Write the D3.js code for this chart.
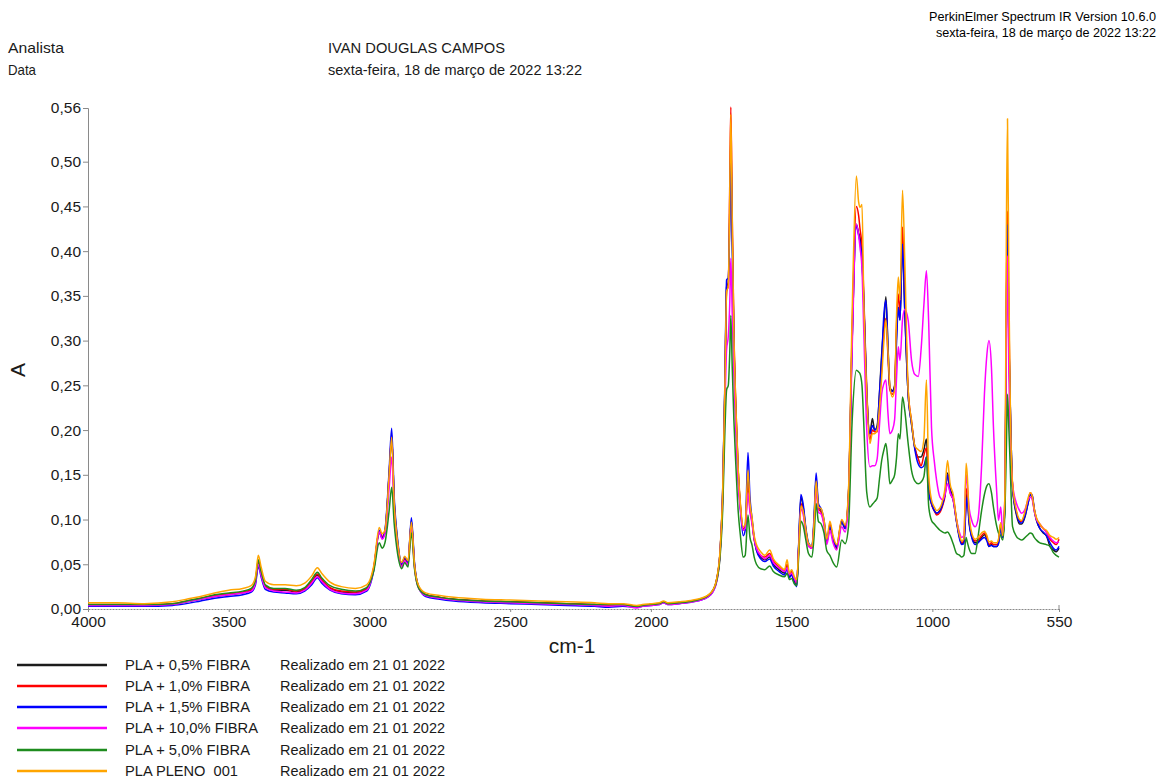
<!DOCTYPE html>
<html>
<head>
<meta charset="utf-8">
<script src="https://cdn.jsdelivr.net/npm/d3@7"></script>
<style>
  html, body { margin: 0; padding: 0; background: #fff; }
  svg { display: block; font-family: "Liberation Sans", Arial, sans-serif; }
</style>
</head>
<body>
<svg id="chart" width="1157" height="778"></svg>
<script>
// Wavenumber grid (cm-1), shared by all spectra
const wavenumbers = [
  4000,3900,3800,3700,3650,3600,3550,3500,3450,3420,
  3405,3395,3385,3370,3340,3300,3260,3230,3205,3185,
  3170,3140,3100,3050,3010,2985,2965,2955,2945,2930,
  2921,2912,2900,2885,2875,2863,2851,2840,2825,2800,
  2750,2700,2600,2500,2400,2300,2200,2150,2100,2050,
  2030,2000,1970,1955,1940,1900,1850,1800,1780,1765,
  1755,1745,1737,1731,1725,1720,1716,1711,1705,1698,
  1690,1682,1672,1665,1655,1648,1641,1633,1625,1610,
  1595,1578,1565,1545,1525,1516,1508,1500,1490,1482,
  1475,1467,1458,1450,1440,1428,1420,1413,1405,1395,
  1385,1375,1364,1353,1340,1322,1310,1298,1285,1270,
  1262,1257,1250,1244,1233,1222,1213,1205,1196,1188,
  1180,1172,1165,1158,1151,1142,1134,1127,1121,1115,
  1106,1098,1086,1074,1062,1050,1040,1030,1021,1013,
  1003,993,985,973,963,955,946,937,926,914,
  903,896,888,880,876,870,860,848,838,825,
  815,806,799,790,783,771,765,757,750,742,
  737,733,728,724,715,701,690,683,670,660,
  652,645,638,630,618,606,595,582,570,560,
  550
];

// Absorbance, PLA + 0,5% FIBRA
const abs05 = [
  .004,.004,.004,.005,.008,.011,.014,.016,.018,.021,
  .030,.052,.040,.025,.021,.021,.019,.022,.030,.038,
  .032,.023,.019,.018,.022,.045,.085,.080,.085,.150,
  .192,.120,.075,.050,.057,.052,.098,.050,.025,.016,
  .013,.011,.009,.008,.007,.006,.005,.004,.005,.003,
  .004,.005,.006,.008,.006,.007,.009,.014,.020,.035,
  .060,.130,.250,.360,.365,.440,.530,.420,.300,.220,
  .155,.115,.088,.090,.145,.115,.100,.078,.066,.058,
  .055,.058,.050,.044,.040,.048,.036,.040,.030,.026,
  .070,.125,.112,.090,.072,.068,.100,.146,.115,.110,
  .098,.075,.090,.078,.068,.097,.090,.128,.300,.430,
  .420,.415,.390,.345,.240,.196,.213,.200,.205,.240,
  .285,.320,.349,.297,.248,.244,.250,.310,.337,.323,
  .408,.334,.240,.207,.180,.170,.170,.178,.190,.135,
  .118,.110,.107,.110,.118,.129,.152,.135,.125,.099,
  .080,.073,.075,.120,.130,.100,.081,.074,.075,.080,
  .083,.078,.070,.072,.070,.070,.074,.092,.080,.120,
  .330,.420,.300,.240,.136,.105,.095,.095,.104,.118,
  .128,.125,.110,.099,.090,.085,.082,.070,.066,.064,
  .068
];

// Absorbance, PLA + 1,0% FIBRA
const abs10 = [
  .005,.005,.005,.006,.009,.012,.015,.017,.019,.022,
  .031,.054,.041,.026,.022,.022,.020,.023,.031,.039,
  .033,.024,.020,.019,.023,.046,.087,.081,.087,.150,
  .195,.118,.072,.049,.056,.051,.097,.048,.024,.016,
  .013,.011,.009,.008,.007,.006,.005,.004,.005,.003,
  .004,.005,.006,.008,.006,.007,.009,.014,.020,.035,
  .060,.128,.245,.355,.362,.470,.561,.440,.310,.225,
  .155,.115,.090,.092,.140,.112,.098,.078,.068,.060,
  .058,.062,.054,.047,.043,.050,.039,.042,.033,.029,
  .068,.118,.108,.088,.072,.068,.098,.140,.112,.108,
  .096,.075,.095,.080,.070,.099,.092,.130,.310,.450,
  .440,.425,.405,.355,.245,.189,.200,.198,.198,.230,
  .270,.310,.325,.285,.245,.240,.248,.320,.352,.330,
  .427,.350,.245,.210,.180,.168,.160,.172,.180,.135,
  .117,.110,.105,.108,.116,.126,.150,.130,.122,.098,
  .080,.074,.076,.130,.135,.102,.082,.076,.077,.082,
  .085,.080,.072,.074,.072,.072,.076,.096,.082,.125,
  .350,.445,.330,.240,.138,.108,.098,.098,.108,.120,
  .130,.126,.112,.101,.094,.090,.086,.078,.074,.072,
  .078
];

// Absorbance, PLA + 1,5% FIBRA
const abs15 = [
  .003,.003,.003,.004,.006,.009,.012,.014,.016,.019,
  .027,.048,.036,.022,.019,.018,.017,.020,.027,.035,
  .029,.021,.017,.016,.020,.043,.088,.079,.088,.155,
  .202,.125,.078,.050,.058,.052,.102,.052,.024,.014,
  .011,.009,.007,.006,.005,.004,.003,.002,.003,.002,
  .003,.004,.005,.007,.005,.006,.008,.013,.019,.034,
  .060,.132,.255,.368,.370,.430,.515,.410,.295,.215,
  .150,.112,.082,.088,.175,.125,.102,.080,.066,.056,
  .053,.056,.048,.042,.038,.046,.035,.038,.029,.025,
  .072,.128,.115,.092,.074,.070,.105,.152,.118,.112,
  .100,.076,.092,.078,.070,.098,.090,.126,.300,.428,
  .418,.410,.390,.350,.240,.196,.205,.200,.203,.240,
  .280,.330,.345,.295,.248,.243,.248,.300,.337,.323,
  .408,.334,.240,.207,.178,.162,.158,.160,.170,.130,
  .118,.110,.107,.110,.118,.128,.150,.132,.122,.097,
  .078,.072,.073,.115,.125,.098,.080,.072,.074,.078,
  .080,.076,.070,.071,.070,.070,.073,.090,.080,.118,
  .320,.430,.300,.240,.136,.107,.097,.096,.105,.118,
  .128,.127,.112,.100,.090,.086,.082,.074,.068,.066,
  .070
];

// Absorbance, PLA + 10,0% FIBRA
const abs100 = [
  .004,.004,.004,.005,.008,.011,.014,.016,.018,.020,
  .029,.050,.038,.024,.020,.019,.018,.021,.029,.036,
  .031,.022,.018,.017,.021,.044,.086,.078,.084,.135,
  .170,.110,.068,.047,.054,.049,.093,.047,.023,.015,
  .012,.010,.008,.007,.006,.005,.004,.003,.004,.001,
  .003,.004,.005,.007,.005,.006,.008,.013,.019,.032,
  .057,.120,.225,.290,.305,.340,.392,.330,.260,.195,
  .140,.110,.088,.090,.130,.108,.096,.078,.068,.060,
  .056,.060,.052,.046,.042,.046,.038,.040,.034,.030,
  .065,.112,.104,.086,.070,.068,.096,.134,.108,.106,
  .094,.072,.088,.074,.066,.092,.086,.120,.290,.430,
  .418,.404,.380,.315,.200,.159,.160,.160,.168,.205,
  .240,.252,.256,.220,.196,.200,.212,.260,.293,.278,
  .323,.335,.323,.278,.262,.260,.290,.340,.378,.320,
  .203,.165,.144,.125,.122,.128,.140,.130,.122,.100,
  .085,.080,.082,.150,.140,.115,.099,.092,.100,.160,
  .240,.285,.300,.270,.204,.129,.099,.114,.085,.130,
  .300,.395,.260,.200,.140,.118,.110,.107,.112,.122,
  .125,.122,.110,.100,.095,.090,.086,.080,.076,.074,
  .075
];

// Absorbance, PLA + 5,0% FIBRA
const abs50 = [
  .005,.005,.005,.006,.009,.012,.016,.018,.020,.023,
  .032,.055,.042,.027,.023,.023,.021,.024,.033,.041,
  .035,.026,.022,.020,.024,.042,.074,.068,.074,.110,
  .136,.095,.062,.045,.052,.047,.085,.045,.023,.016,
  .013,.011,.009,.008,.007,.006,.005,.005,.005,.003,
  .004,.005,.006,.008,.006,.007,.009,.014,.021,.033,
  .055,.110,.200,.245,.250,.285,.328,.270,.210,.160,
  .110,.082,.058,.060,.105,.080,.072,.058,.050,.045,
  .044,.048,.042,.038,.036,.040,.033,.034,.028,.026,
  .058,.098,.092,.078,.062,.058,.082,.118,.098,.095,
  .085,.065,.060,.052,.047,.077,.073,.092,.210,.267,
  .265,.263,.250,.210,.130,.114,.117,.120,.124,.145,
  .166,.178,.185,.166,.140,.144,.150,.170,.196,.190,
  .237,.222,.185,.155,.143,.140,.142,.148,.170,.115,
  .099,.095,.092,.088,.086,.085,.086,.082,.073,.062,
  .060,.058,.060,.080,.075,.068,.062,.062,.080,.110,
  .128,.138,.140,.130,.114,.092,.085,.082,.077,.110,
  .180,.240,.200,.166,.092,.081,.078,.077,.080,.083,
  .085,.084,.080,.077,.074,.073,.072,.070,.063,.060,
  .058
];

// Absorbance, PLA PLENO 001
const absPleno = [
  .007,.007,.006,.008,.011,.014,.018,.021,.023,.026,
  .036,.060,.047,.031,.027,.027,.026,.029,.037,.046,
  .040,.030,.025,.023,.027,.048,.091,.084,.088,.150,
  .192,.118,.075,.052,.059,.054,.097,.050,.026,.018,
  .015,.013,.011,.010,.009,.008,.007,.006,.006,.004,
  .005,.006,.007,.009,.007,.008,.010,.015,.021,.036,
  .062,.132,.250,.355,.360,.460,.553,.435,.305,.225,
  .158,.118,.092,.095,.155,.118,.103,.082,.072,.064,
  .060,.066,.056,.049,.044,.055,.040,.044,.036,.033,
  .066,.115,.108,.090,.073,.070,.098,.143,.114,.112,
  .100,.078,.098,.082,.072,.100,.094,.132,.330,.484,
  .455,.449,.452,.352,.240,.185,.196,.196,.200,.225,
  .259,.300,.323,.290,.250,.237,.245,.330,.371,.345,
  .468,.390,.245,.210,.182,.178,.176,.190,.256,.150,
  .122,.114,.110,.113,.122,.135,.166,.140,.128,.100,
  .082,.076,.078,.163,.150,.110,.085,.078,.080,.085,
  .087,.082,.075,.076,.074,.074,.078,.096,.082,.130,
  .420,.548,.360,.250,.140,.110,.100,.099,.110,.124,
  .130,.126,.112,.102,.095,.090,.088,.082,.080,.078,
  .080
];

const seriesNames = ["PLA + 0,5% FIBRA", "PLA + 1,0% FIBRA", "PLA + 1,5% FIBRA",
                     "PLA + 10,0% FIBRA", "PLA + 5,0% FIBRA", "PLA PLENO  001"];
const seriesValues = [abs05, abs10, abs15, abs100, abs50, absPleno];
const seriesColors = ["#1c1c1c", "#ff0000", "#0000ff", "#ff00ff", "#1e8c1e", "#ffa500"];
const runNote = "Realizado em 21 01 2022";

const xTicks = [4000, 3500, 3000, 2500, 2000, 1500, 1000, 550];
const yTicks = [0, 0.05, 0.10, 0.15, 0.20, 0.25, 0.30, 0.35, 0.40, 0.45, 0.50, 0.56];

const svg = d3.select("#chart");
const plotLeft = 88, plotRight = 1059, plotTop = 108, plotBottom = 609;

const x = d3.scaleLinear().domain([4000, 550]).range([plotLeft, plotRight]);
const y = d3.scaleLinear().domain([0, 0.56]).range([plotBottom, plotTop]);

const textColor = "#1a1a1a";
const axisColor = "#8a8a8a";

// Text helper: fixed-width label squeezed to the given length
function label(g, str, xPos, yPos, len) {
  const t = g.append("text").attr("x", xPos).attr("y", yPos).text(str);
  if (len) t.attr("textLength", len).attr("lengthAdjust", "spacingAndGlyphs");
  return t;
}

// Header block
const hdr = svg.append("g").attr("fill", "#1a1a1a").style("font-size", "14.5px");
label(hdr, "Analista", 8, 53, 56);
label(hdr, "Data", 8, 75, 28);
label(hdr, "IVAN DOUGLAS CAMPOS", 328, 53, 177);
label(hdr, "sexta-feira, 18 de março de 2022 13:22", 328, 75, 254);

const ver = svg.append("g").attr("fill", "#000").style("font-size", "12.5px")
  .attr("text-anchor", "end");
label(ver, "PerkinElmer Spectrum IR Version 10.6.0", 1156, 21, 227);
label(ver, "sexta-feira, 18 de março de 2022 13:22", 1156, 37, 220);

// Y axis
const yAxis = d3.axisLeft(y).tickValues(yTicks).tickSize(5).tickPadding(2)
  .tickFormat(d => d3.format(".2f")(d).replace(".", ","));
const gy = svg.append("g").attr("transform", `translate(${plotLeft},0)`).call(yAxis);
gy.select(".domain").attr("stroke", axisColor);
gy.selectAll(".tick line").attr("stroke", axisColor);
gy.selectAll(".tick text").attr("fill", textColor).style("font-size", "15.5px")
  .style("font-family", "'Liberation Sans', Arial, sans-serif");

// X axis
const xAxis = d3.axisBottom(x).tickValues(xTicks).tickSize(3).tickSizeOuter(0).tickPadding(4)
  .tickFormat(d3.format("d"));
const gx = svg.append("g").attr("transform", `translate(0,${plotBottom})`).call(xAxis);
gx.select(".domain").attr("stroke", axisColor).attr("stroke-dasharray", "2,1");
gx.selectAll(".tick line").attr("stroke", axisColor);
gx.selectAll(".tick text").attr("fill", textColor).style("font-size", "15.5px")
  .style("font-family", "'Liberation Sans', Arial, sans-serif");
// short upward mark closing the axis at the right end
svg.append("line").attr("x1", plotRight).attr("x2", plotRight).attr("y1", plotBottom - 4).attr("y2", plotBottom)
  .attr("stroke", axisColor);

// Axis titles
svg.append("text").attr("transform", `translate(25,370) rotate(-90)`).attr("text-anchor", "middle")
  .attr("fill", textColor).style("font-size", "21px").text("A");
svg.append("text").attr("x", 572).attr("y", 653).attr("text-anchor", "middle")
  .attr("fill", textColor).style("font-size", "21px").text("cm-1");

// Spectra
const line = d3.line()
  .x((d, i) => x(wavenumbers[i]))
  .y(d => y(d))
  .curve(d3.curveMonotoneX);

const plot = svg.append("g");
seriesValues.forEach((vals, k) => {
  plot.append("path")
    .datum(vals)
    .attr("fill", "none")
    .attr("stroke", seriesColors[k])
    .attr("stroke-width", 1.5)
    .attr("stroke-linejoin", "round")
    .attr("d", line);
});

// Legend
const rowY = [665, 686, 707, 728, 750, 771];
const nameWidths = [125, 125, 125, 133, 125, 113];
const leg = svg.append("g").style("font-size", "14.5px").attr("fill", "#1a1a1a");
seriesNames.forEach((name, k) => {
  leg.append("line").attr("x1", 17).attr("x2", 107).attr("y1", rowY[k]).attr("y2", rowY[k])
    .attr("stroke", seriesColors[k]).attr("stroke-width", 2.5);
  label(leg, name, 125, rowY[k] + 5, nameWidths[k]).attr("xml:space", "preserve");
  label(leg, runNote, 280, rowY[k] + 5, 165);
});
</script>
</body>
</html>
